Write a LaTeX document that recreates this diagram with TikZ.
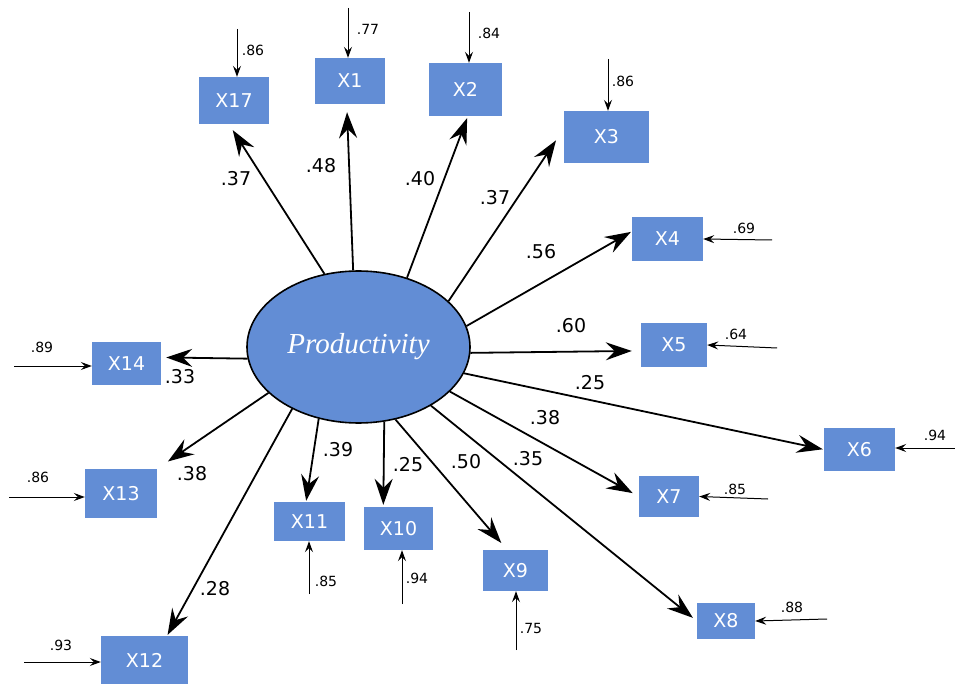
\documentclass[tikz,border=0pt]{standalone}
\usepackage{fontspec}
\setmainfont{DejaVu Sans}
\newfontfamily\prodfont{Liberation Serif}
\usetikzlibrary{arrows.meta,shapes.geometric}
\definecolor{boxblue}{RGB}{98,141,213}
\begin{document}
\begin{tikzpicture}[x=1pt,y=-1pt,
 box/.style={fill=boxblue,text=white,inner sep=0pt,font=\fontsize{19}{22}\selectfont},
 load/.style={line width=1.8pt,-{Stealth[length=26pt,width=18pt,inset=9pt]}},
 err/.style={line width=1pt,-{Stealth[length=11pt,width=8pt,inset=4pt]}},
 lbl/.style={font=\fontsize{19}{22}\selectfont,inner sep=0pt},
 elbl/.style={font=\fontsize{14}{16}\selectfont,inner sep=0pt}]
\useasboundingbox (0,0) rectangle (955,684);

% latent
\node[ellipse,draw,line width=1.6pt,fill=boxblue,minimum width=223pt,minimum height=152pt,inner sep=0pt,text=white]
  (P) at (358.5,347) {\prodfont\itshape\fontsize{29}{32}\selectfont Productivity};

% indicators
\node[box,minimum width=70pt,minimum height=47pt] (X17) at (234,100.5) {X17};
\node[box,minimum width=70pt,minimum height=46pt] (X1) at (350,81) {X1};
\node[box,minimum width=73pt,minimum height=53pt] (X2) at (465.5,89.5) {X2};
\node[box,minimum width=85pt,minimum height=52pt] (X3) at (606.5,137) {X3};
\node[box,minimum width=71pt,minimum height=44pt] (X4) at (667.5,239) {X4};
\node[box,minimum width=66pt,minimum height=44pt] (X5) at (674,345) {X5};
\node[box,minimum width=71pt,minimum height=43pt] (X6) at (859.5,449.5) {X6};
\node[box,minimum width=60pt,minimum height=41pt] (X7) at (669,496.5) {X7};
\node[box,minimum width=58pt,minimum height=36pt] (X8) at (726,621) {X8};
\node[box,minimum width=65pt,minimum height=41pt] (X9) at (515.5,570.5) {X9};
\node[box,minimum width=69pt,minimum height=43pt] (X10) at (398.5,528.5) {X10};
\node[box,minimum width=71pt,minimum height=39pt] (X11) at (309.5,521.5) {X11};
\node[box,minimum width=87pt,minimum height=48pt] (X12) at (144.5,660) {X12};
\node[box,minimum width=72pt,minimum height=49pt] (X13) at (121,493.5) {X13};
\node[box,minimum width=69pt,minimum height=43pt] (X14) at (126.5,363.5) {X14};

% loadings
\draw[load,shorten >=7pt] (P.115.6) -- (X17.258);
\draw[load,shorten >=8pt] (P.94.3) -- (X1.262);
\draw[load,shorten >=2pt] (P.55) -- (X2.275);
\draw[load,shorten >=14pt] (P.27.3) -- (X3.169);
\draw[load,shorten >=1pt] (P.11.4) -- (X4.168.5);
\draw[load,shorten >=9pt] (P.-3) -- (X5.190);
\draw[load,shorten >=1pt] (P.-14.2) -- (X6.west);
\draw[load,shorten >=7pt] (P.-26.3) -- (X7.west);
\draw[load,shorten >=5pt] (P.-39.3) -- (X8.west);
\draw[load,shorten >=9pt] (P.-63) -- (X9.112.5);
\draw[load,shorten >=2pt] (P.-71.6) -- (X10.125.8);
\draw[load,shorten >=1pt] (P.-119) -- (X11.100);
\draw[load,shorten >=1pt] (P.-137) -- (X12.47.5);
\draw[load,shorten >=13pt] (P.-153) -- (X13.north east);
\draw[load,shorten >=5pt] (P.-174) -- (X14.10.7);

% loading labels
\node[lbl] (l17) at (236,179) {.37};
\node[lbl] (l1) at (321,166) {.48};
\node[lbl] (l2) at (420,179) {.40};
\node[lbl] (l3) at (495,198) {.37};
\node[lbl] (l4) at (541,252) {.56};
\node[lbl] (l5) at (571,326) {.60};
\node[lbl] (l6) at (590,383) {.25};
\node[lbl] (l7) at (545,418) {.38};
\node[lbl] (l8) at (528,459) {.35};
\node[lbl] (l9) at (466,462) {.50};
\node[lbl] (l10) at (408,465) {.25};
\node[lbl] (l11) at (338,450) {.39};
\node[lbl] (l12) at (215,589) {.28};
\node[lbl] (l13) at (192,474) {.38};
\node[lbl] (l14) at (180,377) {.33};

% error terms
\coordinate (e17) at (237,29);
\coordinate (e1) at (348,8);
\coordinate (e2) at (469,12);
\coordinate (e3) at (608,59);
\coordinate (e4) at (772,240);
\coordinate (e5) at (777,348);
\coordinate (e6) at (955,448);
\coordinate (e7) at (768,499);
\coordinate (e8) at (827,619);
\coordinate (e9) at (516,650);
\coordinate (e10) at (402,604);
\coordinate (e11) at (309,594);
\coordinate (e12) at (24,662);
\coordinate (e13) at (9,497);
\coordinate (e14) at (14,366);

\draw[err] (e17) -- (e17 |- X17.north);
\draw[err] (e1) -- (e1 |- X1.north);
\draw[err] (e2) -- (e2 |- X2.north);
\draw[err] (e3) -- (e3 |- X3.north);
\draw[err] (e4) -- (X4.east);
\draw[err] (e5) -- (X5.east);
\draw[err] (e6) -- (e6 -| X6.east);
\draw[err] (e7) -- (X7.east);
\draw[err] (e8) -- (X8.east);
\draw[err] (e9) -- (e9 |- X9.south);
\draw[err] (e10) -- (e10 |- X10.south);
\draw[err] (e11) -- (e11 |- X11.south);
\draw[err] (e12) -- (e12 -| X12.west);
\draw[err] (e13) -- (e13 -| X13.west);
\draw[err] (e14) -- (e14 -| X14.west);

\node[elbl] (r17) at (253,50) {.86};
\node[elbl] (r1) at (368,29) {.77};
\node[elbl] (r2) at (489,33) {.84};
\node[elbl] (r3) at (623,81) {.86};
\node[elbl] (r4) at (744,228) {.69};
\node[elbl] (r5) at (736,334) {.64};
\node[elbl] (r6) at (935,435) {.94};
\node[elbl] (r7) at (735,489) {.85};
\node[elbl] (r8) at (792,607) {.88};
\node[elbl] (r9) at (531,628) {.75};
\node[elbl] (r10) at (417,578) {.94};
\node[elbl] (r11) at (326,581) {.85};
\node[elbl] (r12) at (61,645) {.93};
\node[elbl] (r13) at (38,477) {.86};
\node[elbl] (r14) at (42,347) {.89};
\end{tikzpicture}
\end{document}
